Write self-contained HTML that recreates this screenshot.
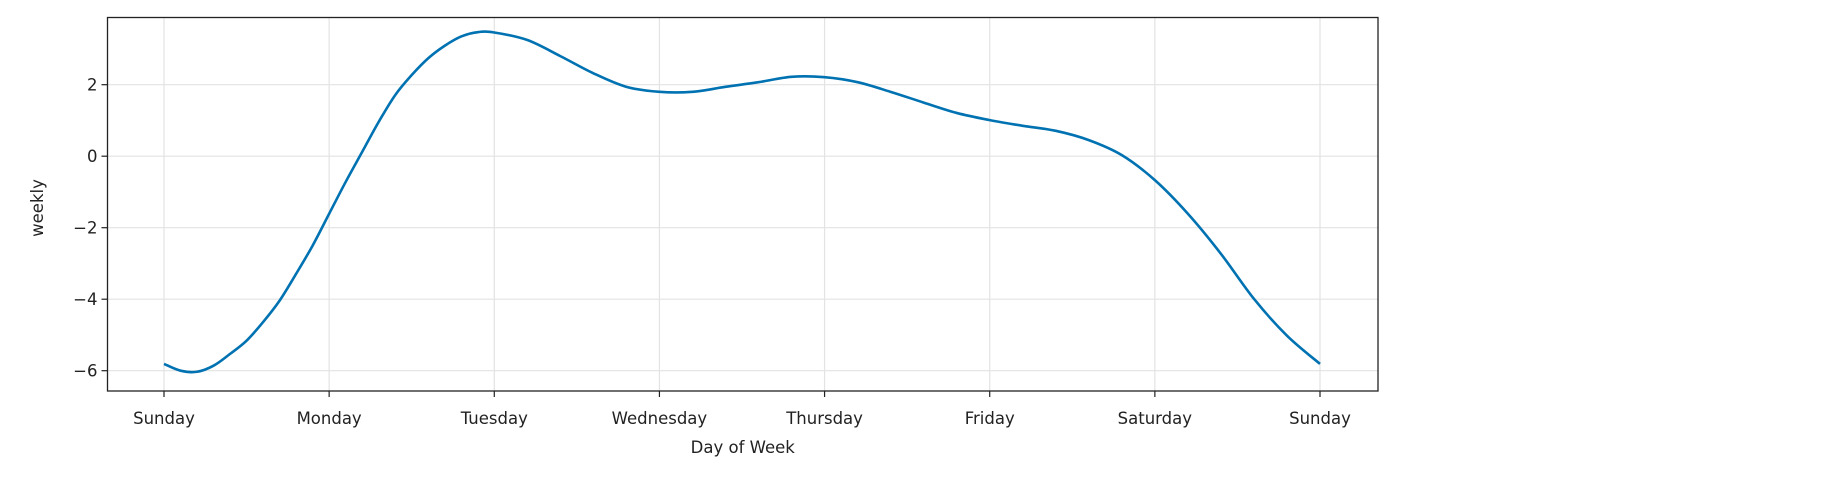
<!DOCTYPE html>
<html><head><meta charset="utf-8"><style>
body{margin:0;background:#fff;}
svg text{font-family:"DejaVu Sans","Liberation Sans",sans-serif;fill:#222;}
</style></head><body>
<svg id="chart" width="1832" height="474" xmlns="http://www.w3.org/2000/svg"></svg>
<script>
const dayLabels=["Sunday","Monday","Tuesday","Wednesday","Thursday","Friday","Saturday","Sunday"];
const yTicks=[-6,-4,-2,0,2];
const dayPos=[0,0.1,0.2,0.3,0.4,0.5,0.6,0.7,0.8,0.9,1,1.1,1.2,1.3,1.4,1.5,1.6,1.7,1.8,1.9,2,2.2,2.4,2.6,2.8,3,3.2,3.4,3.6,3.8,4,4.2,4.4,4.6,4.8,5,5.2,5.4,5.6,5.8,6,6.2,6.4,6.6,6.8,7];
const weekly=[-5.81,-6.0,-6.03,-5.86,-5.53,-5.16,-4.64,-4.04,-3.29,-2.5,-1.61,-0.72,0.12,0.96,1.71,2.27,2.74,3.09,3.35,3.47,3.46,3.25,2.8,2.32,1.94,1.80,1.80,1.94,2.07,2.22,2.21,2.07,1.80,1.50,1.21,1.01,0.85,0.71,0.45,0.03,-0.67,-1.61,-2.73,-3.99,-5.02,-5.81];

const svg=document.getElementById('chart');
const NS='http://www.w3.org/2000/svg';
const L=107.5,R=1378,T=17.5,B=391;
const x=d=>164+d*(1320-164)/7;
const y=v=>156.2-v*35.75;
function mk(tag,attrs,parent){const e=document.createElementNS(NS,tag);for(const k in attrs)e.setAttribute(k,attrs[k]);(parent||svg).appendChild(e);return e;}

dayLabels.forEach((lab,i)=>{
  const g=mk('line',{x1:x(i),x2:x(i),y1:T,y2:B,stroke:'#e3e3e3','stroke-width':1.2});
  
  
  const t=mk('line',{x1:x(i),x2:x(i),y1:B,y2:B+6,stroke:'#222','stroke-width':1.2});
  
  
  const tx=mk('text',{x:x(i),y:424,'text-anchor':'middle','font-size':16.5});
  tx.textContent=lab;
  
  
});
yTicks.forEach(v=>{
  const g=mk('line',{x1:L,x2:R,y1:y(v),y2:y(v),stroke:'#e3e3e3','stroke-width':1.2});
  
  
  const t=mk('line',{x1:L-6,x2:L,y1:y(v),y2:y(v),stroke:'#222','stroke-width':1.2});
  
  
  const tx=mk('text',{x:L-10,y:y(v)+6,'text-anchor':'end','font-size':16.5});
  tx.textContent=(v<0?'\u2212'+(-v):String(v));
  
  
});
const pts=dayPos.map((d,i)=>[x(d),y(weekly[i])]);
let dstr='M'+pts[0][0]+','+pts[0][1];
for(let i=0;i<pts.length-1;i++){
  const p0=pts[Math.max(0,i-1)],p1=pts[i],p2=pts[i+1],p3=pts[Math.min(pts.length-1,i+2)];
  const c1=[p1[0]+(p2[0]-p0[0])/6,p1[1]+(p2[1]-p0[1])/6];
  const c2=[p2[0]-(p3[0]-p1[0])/6,p2[1]-(p3[1]-p1[1])/6];
  dstr+=' C'+c1[0]+','+c1[1]+' '+c2[0]+','+c2[1]+' '+p2[0]+','+p2[1];
}
const line=mk('path',{d:dstr,fill:'none',stroke:'#0072B2','stroke-width':2.6});


const frame=mk('rect',{x:L,y:T,width:R-L,height:B-T,fill:'none',stroke:'#222','stroke-width':1.3});


const xl=mk('text',{x:(L+R)/2,y:453,'text-anchor':'middle','font-size':16.5});
xl.textContent='Day of Week';


const yl=mk('text',{x:0,y:0,'text-anchor':'middle','font-size':16.5,transform:'translate(43,208) rotate(-90)'});
yl.textContent='weekly';


</script>
</body></html>
